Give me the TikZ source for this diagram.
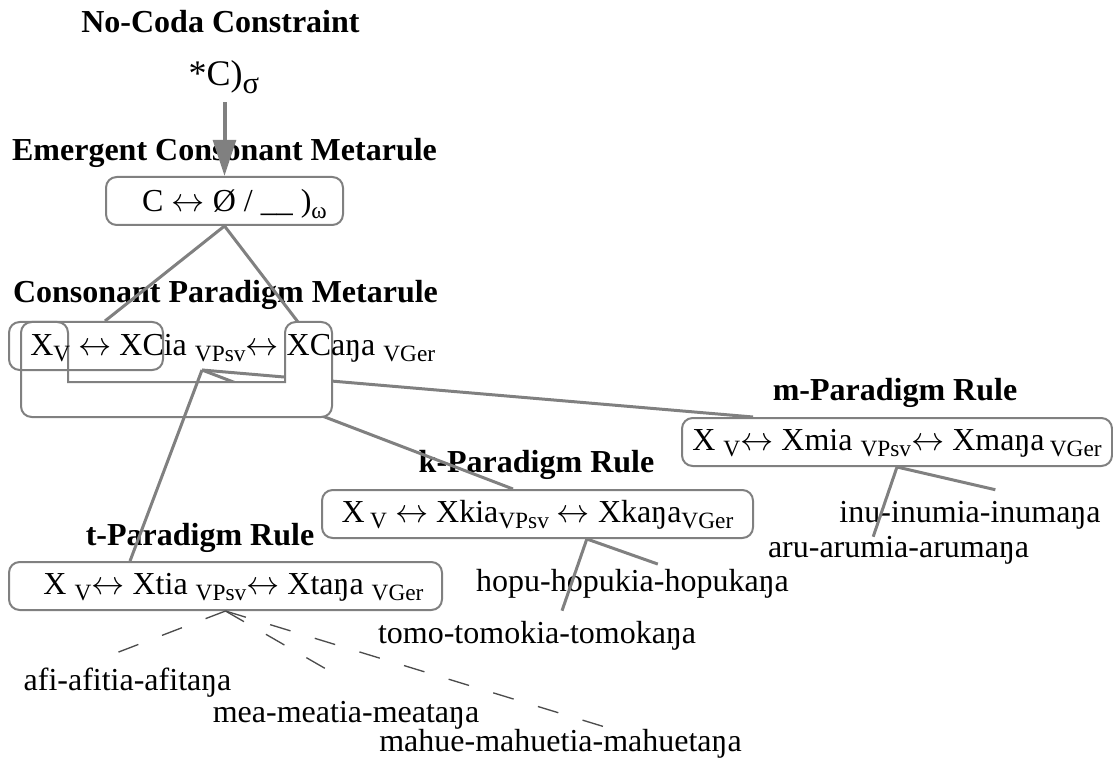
\documentclass[tikz,border=0pt]{standalone}
\usepackage{fontspec}
\setmainfont{Liberation Serif}
\usetikzlibrary{arrows.meta}
\definecolor{rulegray}{HTML}{808080}
\newcommand{\lowsub}[1]{\raisebox{-5pt}{\fontsize{17.5}{18}\selectfont #1}}
\newcommand{\lra}{$\leftrightarrow$}

\begin{document}
\begin{tikzpicture}[x=0.75pt,y=-0.75pt,
        title/.style={font=\fontsize{24}{28}\selectfont\bfseries, inner sep=0pt, anchor=base},
        form/.style={font=\fontsize{24}{28}\selectfont, inner sep=0pt, anchor=base},
        leaf/.style={font=\fontsize{24}{28}\selectfont, inner sep=0pt, anchor=base, text height=17pt, text depth=6pt},
        rulebox/.style={draw=rulegray, line width=1.5pt, rounded corners=8pt, fill=white, font=\fontsize{24}{28}\selectfont, text height=16pt, text depth=4pt, minimum height=36pt, inner sep=0pt},
        link/.style={draw=rulegray, line width=2.25pt},
        dashlink/.style={draw=black!70, line width=1pt, dash pattern=on 16pt off 19pt}]
        \useasboundingbox (0,0) rectangle (1113,766);

        % titles
        \node[title] (nocodat) at (220.5,33) {No-Coda Constraint};
        \node[form, text depth=5pt, font=\fontsize{27}{30}\selectfont] (nocoda) at (224,86) {*C)\raisebox{-6pt}{\fontsize{23}{23}\selectfont σ}};
        \node[title] (emergt) at (224.5,161) {Emergent Consonant Metarule};
        \node[title] (cpt) at (225.5,303) {Consonant Paradigm Metarule};
        \node[title] (mt) at (895,400) {m-Paradigm Rule};
        \node[title] (kt) at (536.5,472) {k-Paradigm Rule};
        \node[title] (tt) at (200,545) {t-Paradigm Rule};

        % word forms
        \node[leaf] (inu) at (970,522) {inu-inumia-inumaŋa};
        \node[leaf] (aru) at (898.5,557) {aru-arumia-arumaŋa};
        \node[leaf] (hopu) at (632.5,591) {hopu-hopukia-hopukaŋa};
        \node[leaf] (tomo) at (537,643) {tomo-tomokia-tomokaŋa};
        \node[leaf] (afi) at (127.5,690) {afi-afitia-afitaŋa};
        \node[leaf] (mea) at (346,722) {mea-meatia-meataŋa};
        \node[leaf] (mahue) at (560.5,751) {mahue-mahuetia-mahuetaŋa};

        % rule boxes
        \node[rulebox, minimum width=177.75pt, text depth=0pt] (emerg) at (224.5,201) {\hspace*{15pt}C \lra{} Ø / \_\_ )\lowsub{ω}};
        \node[rulebox, minimum width=322.5pt] (mbox) at (897,442) {X \lowsub{V}\lra{} Xmia \lowsub{VPsv}\lra{} Xmaŋa\,\lowsub{VGer}};
        \node[rulebox, minimum width=323.25pt] (kbox) at (537.5,514) {X\,\lowsub{V} \lra{} Xkia\lowsub{VPsv} \lra{} Xkaŋa\lowsub{VGer}};
        \node[rulebox, minimum width=324.75pt] (tbox) at (225.5,586) {\hspace*{12pt}X \lowsub{V}\lra{} Xtia \lowsub{VPsv}\lra{} Xtaŋa \lowsub{VGer}};

        \draw[link, line width=3pt, -{Triangle[length=27pt,width=17pt]}] ([yshift=-7pt]nocoda.south -| emerg.north) -- (emerg.north);

        % paradigm metarule
        \coordinate (cpv) at (202,370);
        \coordinate (cptab) at (298,322);
        \draw[link] (cpv) -- ([xshift=-108pt]mbox.north);
        \draw[link] (cpv) -- ([xshift=-18.4pt]kbox.north);
        \draw[draw=rulegray, line width=1.5pt, fill=white, rounded corners=8pt]
            (21,370) -- (21,322) -- (68,322) [sharp corners] -- (68,382) -- (285,382)
            [rounded corners=8pt] -- (285,322) -- (332,322) -- (332,417) -- (21,417) -- cycle;
        \node[draw=rulegray, line width=1.5pt, rounded corners=8pt, minimum width=115.5pt, minimum height=36pt] (cpleft) at (86,346) {};
        \draw[link] (cpv) -- ([xshift=-71.6pt]tbox.north);
        \node[form, anchor=base west] (cpform) at (30,355) {X\lowsub{V} \lra{} XCia \lowsub{VPsv}\lra{} XCaŋa \lowsub{VGer}};

        \draw[link] (emerg.south) -- ([xshift=14.25pt]cpleft.north);
        \draw[link] (emerg.south) -- (cptab);

        % branches to the forms
        \draw[link] (mbox.south) -- ([xshift=19pt,yshift=7pt]inu.north);
        \draw[link] (mbox.south) -- ([xshift=-19pt,yshift=-2pt]aru.north);
        \draw[link] ([xshift=37pt]kbox.south) -- ([xshift=19pt,yshift=3pt]hopu.north);
        \draw[link] ([xshift=37pt]kbox.south) -- ([xshift=18.75pt,yshift=7pt]tomo.north);
        \draw[dashlink] (tbox.south) -- ([xshift=-10pt,yshift=10pt]afi.north);
        \draw[dashlink] (tbox.south) -- ([xshift=-14pt,yshift=22pt]mea.north);
        \draw[dashlink] (tbox.south) -- ([xshift=36pt]mahue.north);
    \end{tikzpicture}
\end{document}
